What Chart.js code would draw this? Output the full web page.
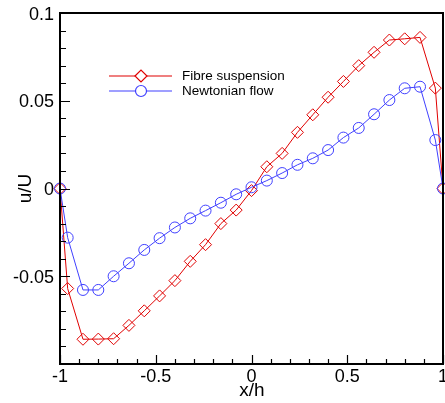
<!DOCTYPE html>
<html>
<head>
<meta charset="utf-8">
<script src="https://cdn.jsdelivr.net/npm/chart.js@4.4.1/dist/chart.umd.min.js"></script>
<style>
  html, body { margin: 0; padding: 0; background: #fff; overflow: hidden; }
  #wrap { width: 450px; height: 403px; }
</style>
</head>
<body>
<div id="wrap"><canvas id="chart" width="450" height="403"></canvas></div>
<script>
// data
const xh = [-1, -0.96, -0.88, -0.8, -0.72, -0.64, -0.56, -0.48, -0.4, -0.32, -0.24, -0.16, -0.08, 0,
  0.08, 0.16, 0.24, 0.32, 0.4, 0.48, 0.56, 0.64, 0.72, 0.8, 0.88, 0.96, 1];
const fibre = [0, -0.057, -0.0859, -0.0858, -0.0856, -0.078, -0.0697, -0.0612, -0.0525, -0.0415,
  -0.032, -0.02, -0.0123, -0.0012, 0.0124, 0.02, 0.032, 0.042, 0.052, 0.061, 0.07, 0.0776, 0.0846,
  0.0853, 0.0861, 0.0572, 0];
const newtonian = [0, -0.028, -0.0578, -0.0578, -0.05, -0.0426, -0.035, -0.0283, -0.0222, -0.017,
  -0.0126, -0.0081, -0.0033, 0.0007, 0.0045, 0.0088, 0.0135, 0.0172, 0.0219, 0.029, 0.0345, 0.0423,
  0.0504, 0.0571, 0.058, 0.0276, 0];
const seriesNames = ["Fibre suspension", "Newtonian flow"];
const xTicks = [-1, -0.5, 0, 0.5, 1];
const xTickLabels = ["-1", "-0.5", "0", "0.5", "1"];
const yTicks = [0.1, 0.05, 0, -0.05];
const yTickLabels = ["0.1", "0.05", "0", "-0.05"];

const red = "#e00000";
const blue = "#4040ff";
const font = "'Liberation Sans', Arial, sans-serif";

function pts(ys) {
  return xh.map((x, i) => ({ x: x, y: ys[i] }));
}

// legend sample: line with the marker in the middle
function legendRow(c, y, color, diamond) {
  const mx = 141, r = diamond ? 6 : 5.5;
  c.save();
  c.fillStyle = color;
  c.fillRect(109, y - 0.5, mx - r - 109, 1);
  c.fillRect(mx + r, y - 0.5, 172 - mx - r, 1);
  c.strokeStyle = color;
  c.lineWidth = 1.2;
  c.beginPath();
  if (diamond) {
    c.moveTo(mx - r, y); c.lineTo(mx, y - r); c.lineTo(mx + r, y); c.lineTo(mx, y + r); c.closePath();
  } else {
    c.arc(mx, y, r, 0, Math.PI * 2);
  }
  c.stroke();
  c.restore();
}

// frame, inward ticks, labels, titles and legend
const axesPlugin = {
  id: "axesPlugin",
  afterDraw(chart) {
    const c = chart.ctx;
    const a = chart.chartArea;
    const sx = chart.scales.x, sy = chart.scales.y;
    c.save();
    c.strokeStyle = "#000";

    // ticks (minor and major), pointing inward
    c.lineWidth = 1.2;
    c.beginPath();
    for (let i = -10; i <= 10; i++) {
      const yp = Math.round(sy.getPixelForValue(i / 100)) + 0.5;
      const len = i % 5 === 0 ? 10 : 6;
      c.moveTo(a.left, yp); c.lineTo(a.left + len, yp);
    }
    for (let i = -10; i <= 10; i++) {
      const xp = Math.round(sx.getPixelForValue(i / 10)) + 0.5;
      const len = i % 5 === 0 ? 9 : 5;
      c.moveTo(xp, a.bottom); c.lineTo(xp, a.bottom - len);
    }
    c.stroke();

    // frame
    c.lineWidth = 2;
    c.beginPath();
    c.moveTo(a.left, a.top); c.lineTo(a.right, a.top);
    c.lineTo(a.right, a.bottom); c.lineTo(a.left, a.bottom);
    c.closePath();
    c.stroke();

    // tick labels
    c.fillStyle = "#000";
    c.font = "18px " + font;
    c.textAlign = "right";
    c.textBaseline = "alphabetic";
    yTicks.forEach((v, i) => {
      c.fillText(yTickLabels[i], a.left - 6, sy.getPixelForValue(v) + 6.5);
    });
    c.textAlign = "center";
    xTicks.forEach((v, i) => {
      c.fillText(xTickLabels[i], sx.getPixelForValue(v), 382);
    });

    // axis titles
    c.font = "19px " + font;
    c.fillText("x/h", 252, 396);
    c.save();
    c.translate(31, sy.getPixelForValue(0));
    c.rotate(-Math.PI / 2);
    c.fillText("u/U", 0, 0);
    c.restore();

    // legend
    legendRow(c, 76, red, true);
    legendRow(c, 91, blue, false);
    c.font = "13.5px " + font;
    c.textAlign = "left";
    c.textBaseline = "middle";
    c.fillStyle = "#000";
    c.fillText(seriesNames[0], 182, 76);
    c.fillText(seriesNames[1], 182, 91);
    c.restore();
  }
};

new Chart(document.getElementById("chart").getContext("2d"), {
  type: "scatter",
  data: {
    datasets: [
      {
        label: seriesNames[0],
        data: pts(fibre),
        showLine: true,
        borderColor: red,
        backgroundColor: "rgba(0,0,0,0)",
        borderWidth: 1,
        pointStyle: "rectRot",
        pointRadius: 6,
        pointBorderWidth: 1,
        pointBorderColor: red,
        pointBackgroundColor: "rgba(0,0,0,0)",
        clip: false,
        order: 1
      },
      {
        label: seriesNames[1],
        data: pts(newtonian),
        showLine: true,
        borderColor: blue,
        backgroundColor: "rgba(0,0,0,0)",
        borderWidth: 1,
        pointStyle: "circle",
        pointRadius: 5.5,
        pointBorderWidth: 1,
        pointBorderColor: blue,
        pointBackgroundColor: "rgba(0,0,0,0)",
        clip: false,
        order: 0
      }
    ]
  },
  options: {
    responsive: false,
    animation: false,
    devicePixelRatio: 1,
    layout: { padding: { left: 60, top: 13, right: 2, bottom: 39 } },
    plugins: { legend: { display: false }, tooltip: { enabled: false } },
    scales: {
      x: { type: "linear", min: -1, max: 1, display: false },
      y: { type: "linear", min: -0.1, max: 0.1, display: false }
    }
  },
  plugins: [axesPlugin]
});
</script>
</body>
</html>
